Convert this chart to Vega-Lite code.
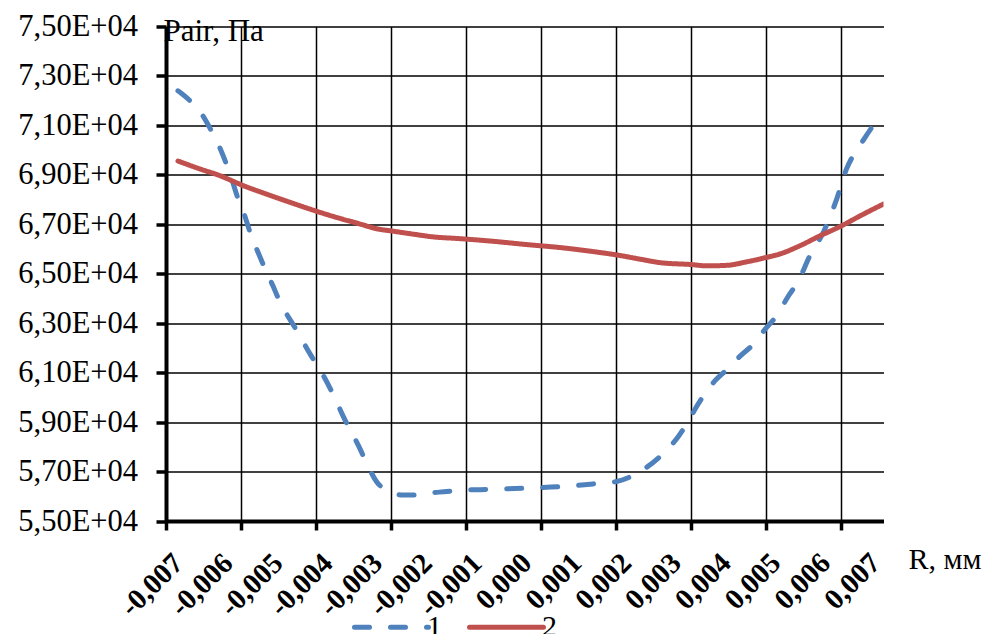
{
  "$schema": "https://vega.github.io/schema/vega-lite/v6.json",
  "width": 717.5,
  "height": 494.5,
  "autosize": {"type": "none"},
  "padding": {"left": 166, "top": 26.5, "right": 105.5, "bottom": 113},
  "background": "white",
  "config": {"view": {"stroke": null}, "font": "Liberation Serif"},
  "data": {
    "values": [
      {"r": -0.0070, "p": 72400, "series": "1"},
      {"r": -0.00676, "p": 72000, "series": "1"},
      {"r": -0.00652, "p": 71450, "series": "1"},
      {"r": -0.00636, "p": 70900, "series": "1"},
      {"r": -0.00616, "p": 70100, "series": "1"},
      {"r": -0.00592, "p": 68830, "series": "1"},
      {"r": -0.00579, "p": 68020, "series": "1"},
      {"r": -0.00567, "p": 67410, "series": "1"},
      {"r": -0.00555, "p": 66670, "series": "1"},
      {"r": -0.00539, "p": 65860, "series": "1"},
      {"r": -0.00523, "p": 65110, "series": "1"},
      {"r": -0.00509, "p": 64500, "series": "1"},
      {"r": -0.00499, "p": 64030, "series": "1"},
      {"r": -0.00485, "p": 63490, "series": "1"},
      {"r": -0.00465, "p": 62820, "series": "1"},
      {"r": -0.00432, "p": 61670, "series": "1"},
      {"r": -0.00411, "p": 60990, "series": "1"},
      {"r": -0.00385, "p": 59980, "series": "1"},
      {"r": -0.00368, "p": 59230, "series": "1"},
      {"r": -0.00335, "p": 57950, "series": "1"},
      {"r": -0.00318, "p": 57200, "series": "1"},
      {"r": -0.00301, "p": 56590, "series": "1"},
      {"r": -0.00274, "p": 56190, "series": "1"},
      {"r": -0.00248, "p": 56050, "series": "1"},
      {"r": -0.00221, "p": 56050, "series": "1"},
      {"r": -0.00201, "p": 56120, "series": "1"},
      {"r": -0.00160, "p": 56190, "series": "1"},
      {"r": -0.00134, "p": 56240, "series": "1"},
      {"r": -0.00070, "p": 56280, "series": "1"},
      {"r": 0.00000, "p": 56330, "series": "1"},
      {"r": 0.00067, "p": 56390, "series": "1"},
      {"r": 0.00134, "p": 56500, "series": "1"},
      {"r": 0.00181, "p": 56600, "series": "1"},
      {"r": 0.00228, "p": 57000, "series": "1"},
      {"r": 0.00275, "p": 57740, "series": "1"},
      {"r": 0.00305, "p": 58420, "series": "1"},
      {"r": 0.00325, "p": 59030, "series": "1"},
      {"r": 0.00342, "p": 59640, "series": "1"},
      {"r": 0.00375, "p": 60590, "series": "1"},
      {"r": 0.00402, "p": 61120, "series": "1"},
      {"r": 0.00429, "p": 61670, "series": "1"},
      {"r": 0.00455, "p": 62140, "series": "1"},
      {"r": 0.00479, "p": 62750, "series": "1"},
      {"r": 0.00502, "p": 63290, "series": "1"},
      {"r": 0.00526, "p": 64100, "series": "1"},
      {"r": 0.00546, "p": 64710, "series": "1"},
      {"r": 0.00569, "p": 65720, "series": "1"},
      {"r": 0.00596, "p": 66670, "series": "1"},
      {"r": 0.00623, "p": 68020, "series": "1"},
      {"r": 0.00643, "p": 69250, "series": "1"},
      {"r": 0.00656, "p": 69780, "series": "1"},
      {"r": 0.00676, "p": 70390, "series": "1"},
      {"r": 0.00693, "p": 70900, "series": "1"},
      {"r": 0.00717, "p": 71520, "series": "1"},
      {"r": -0.0070, "p": 69560, "series": "2"},
      {"r": -0.00656, "p": 69240, "series": "2"},
      {"r": -0.00616, "p": 68970, "series": "2"},
      {"r": -0.00572, "p": 68590, "series": "2"},
      {"r": -0.00522, "p": 68220, "series": "2"},
      {"r": -0.00475, "p": 67890, "series": "2"},
      {"r": -0.00425, "p": 67550, "series": "2"},
      {"r": -0.00375, "p": 67240, "series": "2"},
      {"r": -0.00334, "p": 67010, "series": "2"},
      {"r": -0.00301, "p": 66820, "series": "2"},
      {"r": -0.00271, "p": 66730, "series": "2"},
      {"r": -0.00227, "p": 66600, "series": "2"},
      {"r": -0.00187, "p": 66490, "series": "2"},
      {"r": -0.00134, "p": 66420, "series": "2"},
      {"r": -0.00060, "p": 66300, "series": "2"},
      {"r": 0.00000, "p": 66180, "series": "2"},
      {"r": 0.00067, "p": 66060, "series": "2"},
      {"r": 0.00121, "p": 65930, "series": "2"},
      {"r": 0.00181, "p": 65760, "series": "2"},
      {"r": 0.00228, "p": 65590, "series": "2"},
      {"r": 0.00268, "p": 65450, "series": "2"},
      {"r": 0.00332, "p": 65370, "series": "2"},
      {"r": 0.00362, "p": 65320, "series": "2"},
      {"r": 0.00402, "p": 65340, "series": "2"},
      {"r": 0.00442, "p": 65480, "series": "2"},
      {"r": 0.00482, "p": 65660, "series": "2"},
      {"r": 0.00509, "p": 65800, "series": "2"},
      {"r": 0.00549, "p": 66130, "series": "2"},
      {"r": 0.00589, "p": 66530, "series": "2"},
      {"r": 0.00633, "p": 66940, "series": "2"},
      {"r": 0.00670, "p": 67340, "series": "2"},
      {"r": 0.00717, "p": 67820, "series": "2"}
    ]
  },
  "layer": [
    {
      "mark": {"type": "line", "strokeWidth": 5, "strokeCap": "round", "interpolate": "monotone", "clip": true},
      "encoding": {
        "x": {
          "field": "r",
          "type": "quantitative",
          "scale": {"domain": [-0.00724, 0.00717], "nice": false, "zero": false},
          "axis": {
            "orient": "bottom",
            "values": [-0.00724, -0.005734, -0.004228, -0.002722, -0.001216, 0.00029, 0.001796, 0.003302, 0.004808, 0.006314],
            "labels": false,
            "grid": true,
            "gridColor": "black",
            "gridWidth": 1.5,
            "gridOpacity": 1,
            "ticks": true,
            "tickColor": "black",
            "tickWidth": 3.5,
            "tickSize": 9,
            "domain": true,
            "domainColor": "black",
            "domainWidth": 4,
            "title": null
          }
        },
        "y": {
          "field": "p",
          "type": "quantitative",
          "scale": {"domain": [55000, 75000], "nice": false, "zero": false},
          "axis": {
            "values": [55000, 57000, 59000, 61000, 63000, 65000, 67000, 69000, 71000, 73000, 75000],
            "grid": true,
            "gridColor": "black",
            "gridWidth": 1.5,
            "gridOpacity": 1,
            "domainColor": "black",
            "domainWidth": 4,
            "tickColor": "black",
            "tickWidth": 3.5,
            "tickSize": 10,
            "labelFont": "Liberation Serif",
            "labelFontSize": 30.5,
            "labelColor": "black",
            "labelPadding": 18.5,
            "labelFlush": false,
            "labelOverlap": false,
            "labelExpr": "replace(format(datum.value / 10000, '.2f'), '.', ',') + 'E+04'",
            "title": "Pair, Па",
            "titleAngle": 0,
            "titleX": -3,
            "titleY": 14,
            "titleAlign": "left",
            "titleBaseline": "alphabetic",
            "titleFont": "Liberation Serif",
            "titleFontSize": 31,
            "titleFontWeight": "normal",
            "titleColor": "black"
          }
        },
        "color": {
          "field": "series",
          "type": "nominal",
          "scale": {"domain": ["1", "2"], "range": ["#4F81BD", "#C0504D"]},
          "legend": {
            "orient": "none",
            "legendX": 186,
            "legendY": 561,
            "direction": "horizontal",
            "title": null,
            "padding": 0,
            "symbolType": "stroke",
            "symbolSize": 5476,
            "symbolStrokeWidth": 5,
            "labelFont": "Liberation Serif",
            "labelFontSize": 30,
            "labelColor": "black",
            "labelOffset": -4,
            "columnPadding": 17,
            "encode": {"symbols": {"update": {"strokeCap": {"value": "round"}}}}
          }
        },
        "strokeDash": {
          "field": "series",
          "type": "nominal",
          "scale": {"domain": ["1", "2"], "range": [[15, 21], [1, 0]]},
          "legend": {
            "orient": "none",
            "legendX": 186,
            "legendY": 561,
            "direction": "horizontal",
            "title": null,
            "padding": 0,
            "symbolType": "stroke",
            "symbolSize": 5476,
            "symbolStrokeWidth": 5,
            "labelFont": "Liberation Serif",
            "labelFontSize": 30,
            "labelColor": "black",
            "labelOffset": -4,
            "columnPadding": 17,
            "encode": {"symbols": {"update": {"strokeCap": {"value": "round"}}}}
          }
        }
      }
    },
    {
      "mark": {"type": "point", "opacity": 0},
      "encoding": {
        "x": {
          "field": "r",
          "type": "quantitative",
          "axis": {
            "orient": "bottom",
            "values": [-0.007, -0.006, -0.005, -0.004, -0.003, -0.002, -0.001, 0, 0.001, 0.002, 0.003, 0.004, 0.005, 0.006, 0.007],
            "grid": false,
            "ticks": false,
            "domain": false,
            "labelAngle": -45,
            "labelAlign": "right",
            "labelBaseline": "middle",
            "labelFont": "Liberation Serif",
            "labelFontSize": 29,
            "labelFontWeight": "bold",
            "labelColor": "black",
            "labelPadding": 37,
            "labelFlush": false,
            "labelOverlap": false,
            "labelExpr": "replace(replace(format(datum.value, '.3f'), '.', ','), '−', '-')",
            "title": "R, мм",
            "titleX": 742,
            "titleY": 47,
            "titleAlign": "left",
            "titleAngle": 0,
            "titleBaseline": "alphabetic",
            "titleFont": "Liberation Serif",
            "titleFontSize": 30,
            "titleFontWeight": "normal",
            "titleColor": "black"
          }
        }
      }
    }
  ],
  "resolve": {"axis": {"x": "independent"}}
}
